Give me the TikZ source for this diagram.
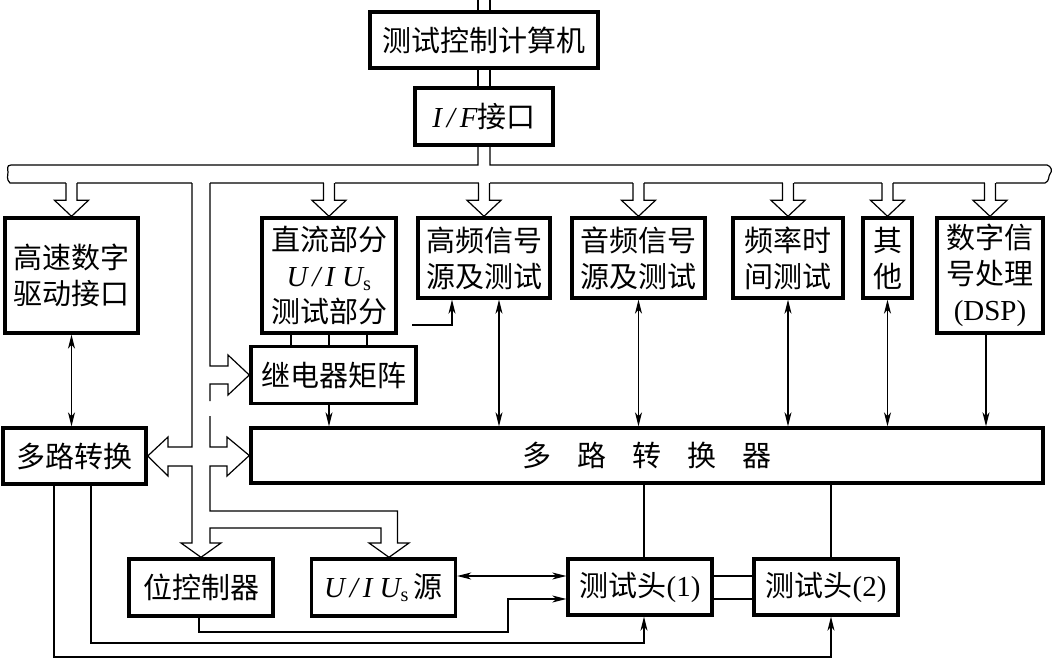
\documentclass[tikz,border=0pt]{standalone}
\usepackage{fontspec}
\newfontfamily\cjk{Noto Sans CJK SC}
\newfontfamily\lat{Liberation Serif}
\usetikzlibrary{arrows.meta,calc}
\tikzset{
  box/.style={draw, line width=3.4pt, inner sep=0pt, align=center,
    font=\cjk\fontsize{29}{36}\selectfont},
  ln/.style={line width=1.2pt},
  ar/.style={ln, -{Stealth[length=14pt,width=7pt,inset=4pt]}},
  dar/.style={ln, {Stealth[length=14pt,width=7pt,inset=4pt]}-{Stealth[length=14pt,width=7pt,inset=4pt]}},
}
\newcommand\hdown[1]{%
  \fill[white] let \p1=(#1.north) in (\x1-5.5pt,-181pt) rectangle (\x1+5.5pt,\y1+16pt);
  \draw[ln] let \p1=(#1.north) in (\x1-5.5pt,-183pt) -- (\x1-5.5pt,\y1+16pt) -- (\x1-17pt,\y1+16pt)
    -- (\p1) -- (\x1+17pt,\y1+16pt) -- (\x1+5.5pt,\y1+16pt) -- (\x1+5.5pt,-183pt);}
\begin{document}
\begin{tikzpicture}[x=1pt,y=-1pt]
\useasboundingbox (0,0) rectangle (1052,658);
% boxes
\node[box, minimum width=228, minimum height=56] (top) at (484,40) {测试控制计算机};
\node[box, minimum width=138, minimum height=57] (if) at (484,116.5) {{\lat\itshape I\,/\,F}接口};
\node[box, minimum width=133, minimum height=115] (hs) at (71.5,275.5) {高速数字\\驱动接口};
\node[box, minimum width=134, minimum height=115] (dc) at (329,275.5) {直流部分\\{\lat\itshape U\,/\,I U\textsubscript{\upshape s}}\\测试部分};
\node[box, minimum width=132, minimum height=80] (hf) at (484,258) {高频信号\\源及测试};
\node[box, minimum width=133, minimum height=80] (af) at (638.5,258) {音频信号\\源及测试};
\node[box, minimum width=110, minimum height=80] (ft) at (788,258) {频率时\\间测试};
\node[box, minimum width=49, minimum height=80] (ot) at (887.5,258) {其\\他};
\node[box, minimum width=106, minimum height=115] (dsp) at (990,275.5) {数字信\\号处理\\{\lat (DSP)}};
\node[box, minimum width=165, minimum height=57] (rl) at (333.5,375) {继电器矩阵};
\node[box, minimum width=143, minimum height=56] (mx) at (74.5,456) {多路转换};
\node[box, minimum width=792, minimum height=55] (mxb) at (647,455.5) {多\hspace{26pt}路\hspace{26pt}转\hspace{26pt}换\hspace{26pt}器};
\node[box, minimum width=144, minimum height=57] (pc) at (201,587.5) {位控制器};
\node[box, minimum width=144, minimum height=57] (ui) at (383.5,587.5) {{\lat\itshape U\,/\,I U\textsubscript{\upshape s}}\,源};
\node[box, minimum width=144, minimum height=56] (th1) at (640,587) {测试头{\lat (1)}};
\node[box, minimum width=144, minimum height=56] (th2) at (826,587) {测试头{\lat (2)}};
% top double line
\draw[ln] ([xshift=-6pt]top.north) -- ++(0,-13);
\draw[ln] ([xshift=6pt]top.north) -- ++(0,-13);
\draw[ln] ([xshift=-6pt]top.south) -- ([xshift=-6pt]if.north);
\draw[ln] ([xshift=6pt]top.south) -- ([xshift=6pt]if.north);
% main bus
\draw[ln] ([xshift=-6pt]if.south) |- (11,165)
  .. controls (6,165) and (8,170) .. (8,172) .. controls (8,176) and (6,179) .. (10,183)
  -- (1045,183) .. controls (1050,181) and (1048,176) .. (1050,174)
  .. controls (1053,171) and (1051,166) .. (1047,165) -| ([xshift=6pt]if.south);
% hollow arrows from the bus
\hdown{hs}
\hdown{dc}
\hdown{hf}
\hdown{af}
\hdown{ft}
\hdown{ot}
\hdown{dsp}
% vertical hollow bus
\fill[white] (192,181) rectangle (210,185.5);
\draw[ln] (192,183) -- (192,447) -- (168,447) -- (168,437) -- (mx.east) -- (168,476) -- (168,466)
  -- (192,466) -- (192,543) -- (181,543) -- (pc.north) -- (221,543) -- (210,543) -- (210,528)
  -- (381,528) -- (381,543) -- (369,543) -- ([xshift=5.5pt]ui.north) -- (409,543) -- (397.5,543)
  -- (397.5,511) -- (210,511) -- (210,466) -- (227,466) -- (227,476) -- (mxb.west) -- (227,437)
  -- (227,447) -- (210,447) -- (210,416);
\draw[ln] (210,401) -- (210,384) -- (228,384) -- (228,395) -- (rl.west) -- (228,355) -- (228,366)
  -- (210,366) -- (210,183);
% thin connectors
\draw[dar] (hs.south) -- (hs.south |- mx.north);
\foreach \dx in {-38,0,38}
  \draw[ln] ([xshift=\dx pt]dc.south) -- ([xshift=\dx pt]dc.south |- rl.north);
\coordinate (dcout) at (412,325);
\draw[ar] (dcout) -| ([xshift=-32pt]hf.south);
\draw[ar] ([xshift=-4.5pt]rl.south) -- ([xshift=-4.5pt]rl.south |- mxb.north);
\draw[dar] ([xshift=15pt]hf.south) -- ([xshift=15pt]hf.south |- mxb.north);
\draw[dar] (af.south) -- (af.south |- mxb.north);
\draw[dar] (ft.south) -- (ft.south |- mxb.north);
\draw[dar] (ot.south) -- (ot.south |- mxb.north);
\draw[ar] ([xshift=-4pt]dsp.south) -- ([xshift=-4pt]dsp.south |- mxb.north);
\draw[ln] ([xshift=4pt]th1.north |- mxb.south) -- ([xshift=4pt]th1.north);
\draw[ln] ([xshift=5pt]th2.north |- mxb.south) -- ([xshift=5pt]th2.north);
\draw[ln] ([yshift=11pt]th1.east) -- ([yshift=11pt]th1.east -| th2.west);
\draw[ln] ([yshift=-12pt]th1.east) -- ([yshift=-12pt]th1.east -| th2.west);
\draw[dar] ([yshift=11.5pt]ui.east) -- ([yshift=11.5pt]ui.east -| th1.west);
\draw[ar] ([xshift=-2pt]pc.south) |- (508,632) |- ([yshift=-12pt]th1.west);
\draw[ar] ([xshift=16.5pt]mx.south) |- (644,643) -- ([xshift=4pt]th1.south);
\draw[ar] ([xshift=-20.5pt]mx.south) |- (831,657) -- ([xshift=5pt]th2.south);
\end{tikzpicture}
\end{document}
